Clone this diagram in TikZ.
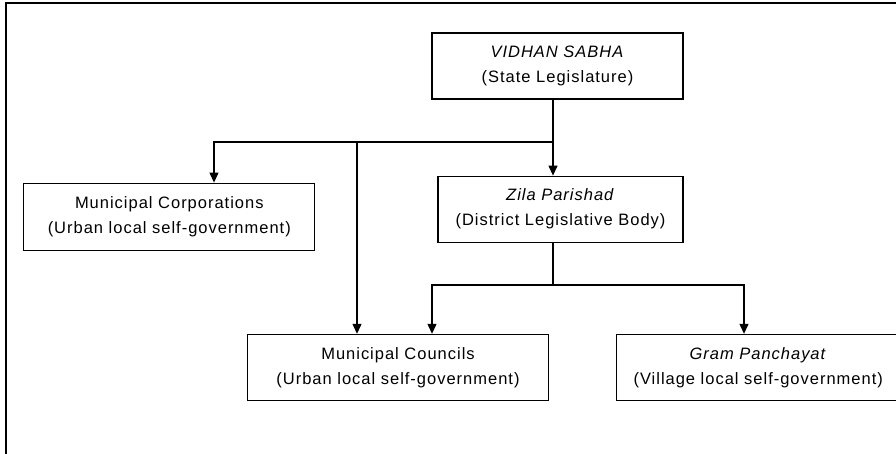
\documentclass[tikz,border=0pt]{standalone}
\usepackage{fontspec}
\setmainfont{Liberation Sans}[LetterSpace=6]
\usepackage{tikz}
\usetikzlibrary{arrows.meta,positioning}

\begin{document}
\begin{tikzpicture}
              [x=1pt,y=1pt,auto=center,
                box/.style={rectangle,draw,line width=1.2pt,align=center,minimum height=66pt,
                  font=\fontsize{16.5pt}{25pt}\selectfont},
                link/.style={line width=1.2pt},
                arr/.style={link,-{Triangle[length=10pt,width=9pt]}}]
              \useasboundingbox (0,0) rectangle (896,-453);
              \draw[line width=2pt] (5.7,-460) -- (5.7,-2.7) -- (900,-2.7);
              \node[box,minimum width=251pt] (n0) at (557.5,-66) {\textit{VIDHAN SABHA}\\(State Legislature)};
              \node (n1) [box,below=76pt of n0,xshift=3pt,minimum width=245pt] {\textit{Zila Parishad}\\(District Legislative Body)};
              \node (n2) [box,left=122pt of n1,yshift=-7.5pt,minimum width=291pt,minimum height=67pt] {Municipal Corporations\\(Urban local self-government)};
              \node (n3) [box,below=91pt of n1,xshift=-162.5pt,minimum width=301pt] {Municipal Councils\\(Urban local self-government)};
              \node (n4) [box,right=67pt of n3,minimum width=283pt] {\textit{Gram Panchayat}\\(Village local self-government)};
              % junctions
              \coordinate (j0) at (553,-142);
              \coordinate (j1) at (214,-142);
              \coordinate (j2) at (357,-142);
              \coordinate (j3) at (553,-285);
              \coordinate (j4) at (432,-285);
              \coordinate (j5) at (744,-285);
              \draw[link] (n0.south -| j0) -- (j0);
              \draw[arr] (j0) -- (j0 |- n1.north);
              \draw[arr] (j0) -- (j1) -- (j1 |- n2.north);
              \draw[arr] (j2) -- (j2 |- n3.north);
              \draw[link] (n1.south -| j3) -- (j3);
              \draw[arr] (j3) -- (j4) -- (j4 |- n3.north);
              \draw[arr] (j3) -- (j5) -- (j5 |- n4.north);
            \end{tikzpicture}
\end{document}
